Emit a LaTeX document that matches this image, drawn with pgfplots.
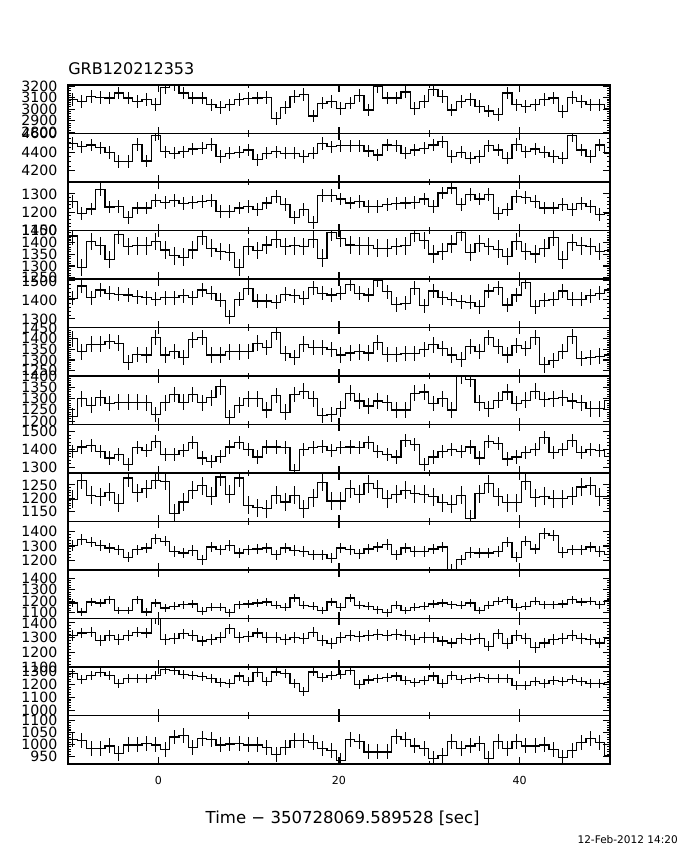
\documentclass[border=0pt]{standalone}
\usepackage{fontspec}
\setmainfont{DejaVu Sans}
\usepackage{pgfplots}
\pgfplotsset{compat=1.18}
\usepackage{pgfplotstable}

\pgfplotstableread{
t b0 b1 n0 n1 n2 n3 n4 n5 n6 n7 n8 n9 na nb
-10.512 3082 4494 1259 1427 1408 1399 1222 1390 1195 1303 1185 1315 1285 1019
-9.488 3082 4494 1259 1427 1408 1399 1222 1390 1195 1303 1185 1315 1285 1019
-8.464 3068 4458 1195 1294 1473 1338 1299 1414 1267 1344 1108 1331 1240 1017
-7.440 3112 4476 1217 1403 1411 1374 1270 1422 1210 1326 1194 1337 1272 984
-6.416 3103 4448 1323 1385 1452 1374 1304 1390 1205 1303 1185 1282 1290 984
-5.392 3097 4395 1228 1328 1434 1387 1278 1352 1222 1286 1214 1315 1272 994
-4.368 3141 4300 1232 1432 1429 1379 1284 1371 1180 1275 1120 1286 1210 962
-3.344 3097 4300 1173 1382 1426 1288 1284 1315 1276 1224 1120 1315 1247 998
-2.320 3068 4483 1223 1385 1417 1326 1284 1409 1220 1275 1214 1337 1247 998
-1.296 3082 4306 1223 1385 1411 1323 1281 1396 1235 1286 1108 1331 1247 1005
-0.272 3044 4582 1265 1403 1404 1405 1229 1446 1267 1349 1185 1431 1272 998
0.752 3185 4405 1254 1368 1411 1323 1281 1371 1264 1333 1142 1286 1315 979
1.776 3209 4388 1265 1343 1411 1341 1318 1371 1142 1263 1157 1293 1310 1031
2.800 3141 4405 1246 1337 1422 1313 1284 1396 1185 1252 1171 1326 1280 1037
3.824 3097 4434 1254 1368 1411 1394 1318 1441 1230 1270 1177 1315 1272 987
4.848 3097 4441 1259 1425 1452 1405 1281 1352 1247 1205 1114 1277 1260 1024
5.872 3038 4483 1265 1375 1434 1323 1304 1334 1207 1293 1148 1286 1247 1019
6.896 3018 4352 1204 1361 1399 1323 1353 1362 1280 1275 1148 1300 1215 998
7.920 3038 4388 1204 1357 1311 1338 1215 1414 1214 1303 1100 1360 1205 1002
8.944 3082 4398 1223 1294 1404 1338 1270 1441 1276 1252 1171 1300 1265 1005
9.968 3091 4423 1232 1382 1461 1341 1299 1399 1172 1275 1177 1309 1222 998
10.992 3097 4317 1213 1365 1394 1379 1299 1358 1164 1279 1185 1331 1290 998
12.016 3103 4388 1250 1389 1394 1359 1249 1414 1160 1286 1194 1300 1222 987
13.040 2921 4405 1287 1413 1387 1429 1314 1414 1210 1240 1165 1300 1297 959
14.064 3015 4388 1241 1382 1429 1329 1240 1409 1185 1286 1148 1286 1285 987
15.088 3112 4388 1173 1385 1422 1313 1318 1283 1210 1270 1228 1300 1205 1017
16.112 3126 4352 1213 1382 1408 1374 1333 1399 1160 1263 1165 1293 1147 1017
17.136 2941 4388 1144 1413 1464 1359 1299 1409 1201 1240 1157 1337 1297 1008
18.160 3053 4494 1290 1333 1434 1359 1225 1418 1260 1240 1120 1282 1255 984
19.184 3068 4458 1290 1442 1426 1348 1229 1396 1189 1217 1194 1260 1272 974
20.208 3009 4469 1272 1417 1434 1323 1255 1409 1189 1286 1148 1300 1280 933
21.232 3053 4469 1250 1389 1482 1333 1323 1414 1235 1275 1228 1315 1310 1019
22.256 3121 4469 1259 1385 1434 1338 1289 1409 1214 1247 1165 1309 1197 1012
23.280 2994 4412 1232 1385 1426 1333 1267 1441 1255 1279 1157 1315 1235 969
24.304 3197 4370 1232 1375 1505 1383 1289 1390 1235 1293 1128 1322 1247 969
25.328 3097 4476 1241 1375 1443 1326 1281 1371 1197 1310 1100 1315 1255 969
26.352 3097 4469 1246 1382 1376 1326 1249 1358 1214 1240 1165 1322 1265 1034
27.376 3150 4388 1250 1385 1382 1329 1249 1452 1230 1286 1120 1315 1230 1019
28.400 3009 4423 1254 1439 1461 1329 1323 1427 1217 1263 1148 1286 1215 994
29.424 3068 4441 1272 1408 1369 1348 1329 1315 1214 1263 1157 1300 1230 984
30.448 3171 4476 1230 1351 1447 1371 1278 1358 1205 1279 1177 1300 1265 941
31.472 3110 4511 1305 1361 1411 1353 1299 1390 1182 1293 1185 1277 1205 955
32.496 2994 4352 1332 1393 1404 1323 1249 1399 1176 1141 1171 1264 1272 1012
33.520 3068 4398 1241 1442 1390 1303 1400 1390 1210 1205 1165 1293 1240 984
34.544 3082 4335 1296 1357 1387 1364 1385 1414 1122 1256 1185 1286 1247 994
35.568 3024 4352 1272 1396 1364 1341 1281 1352 1217 1252 1120 1293 1255 1005
36.592 2985 4469 1296 1382 1447 1405 1255 1446 1255 1252 1165 1242 1247 941
37.616 2956 4423 1195 1371 1464 1364 1293 1433 1205 1263 1200 1326 1247 1012
38.640 3141 4335 1213 1340 1373 1323 1329 1347 1182 1326 1214 1260 1247 984
39.664 3038 4483 1287 1403 1426 1368 1278 1358 1182 1224 1148 1315 1190 1012
40.688 3024 4405 1280 1361 1492 1353 1293 1381 1264 1333 1157 1293 1190 994
41.712 3038 4434 1259 1351 1364 1405 1333 1399 1201 1279 1200 1233 1222 994
42.736 3082 4398 1223 1375 1399 1277 1296 1465 1207 1386 1171 1264 1210 998
43.760 3097 4352 1223 1422 1404 1298 1299 1381 1197 1372 1171 1286 1230 979
44.784 2979 4335 1241 1326 1447 1341 1304 1399 1197 1256 1177 1293 1222 946
45.808 3103 4575 1213 1399 1404 1409 1289 1452 1207 1275 1214 1315 1240 976
46.832 3068 4423 1246 1385 1404 1308 1281 1381 1242 1275 1194 1293 1222 1008
47.856 3038 4352 1232 1382 1422 1313 1255 1399 1247 1293 1200 1286 1210 1024
48.880 3038 4476 1186 1361 1434 1318 1255 1396 1205 1263 1171 1264 1205 1008
49.904 3009 4388 1195 1365 1452 1323 1293 1362 1207 1240 1205 1293 1215 955
50.928 3009 4388 1195 1365 1452 1323 1293 1362 1207 1240 1205 1293 1215 955
}\lc

\pgfplotsset{
  panel/.style={
    scale only axis, width=406.5pt, height=36.375pt, anchor=north west,
    xmin=-10, xmax=50, xtick={0,20,40}, minor xtick={10,30},
    xticklabels={},
    tick align=inside, tick pos=both,
    major tick length=5pt, minor tick length=2.5pt,
    every tick/.style={black, line width=0.8pt},
    axis line style={line width=1pt},
    scaled y ticks=false,
    /pgf/number format/1000 sep={},
    /pgf/number format/assume math mode=true,
    yticklabel style={font=\fontsize{10.6}{11}\selectfont, xshift=-4.5pt},
    xticklabel style={font=\fontsize{8.3}{9}\selectfont, yshift=-6pt},
  }
}

\newcommand{\panel}[7]{%
\begin{axis}[panel, at={(0pt,{-#1*36.375pt})}, ymin=#3, ymax=#4, ytick={#5}, #7]
\addplot[black, line width=0.9pt, const plot mark mid, mark=none,
  error bars/.cd, y dir=both, y fixed=#6, error mark=none,
  error bar style={line width=0.9pt}] table[x=t, y=#2] {\lc};
\node[anchor=west, inner sep=0pt, xshift=7.5pt, font=\fontsize{8.3}{9}\selectfont] at (rel axis cs:1,0.5) {#2};
\end{axis}}

\begin{document}
\begin{tikzpicture}
\path[use as bounding box] (-51pt,63.75pt) rectangle (459pt,-573.75pt);
\panel{0}{b0}{2790}{3210}{2800,2900,...,3200}{55}{minor y tick num=4}
\panel{1}{b1}{4080}{4600}{4200,4400,4600}{66}{minor y tick num=3}
\panel{2}{n0}{1100}{1365}{1100,1200,1300}{35}{minor y tick num=4}
\panel{3}{n1}{1245}{1450}{1250,1300,...,1450}{37}{minor y tick num=4}
\panel{4}{n2}{1255}{1510}{1300,1400,1500}{37}{minor y tick num=4}
\panel{5}{n3}{1225}{1452}{1250,1300,...,1450}{36}{minor y tick num=4}
\panel{6}{n4}{1185}{1400}{1200,1250,...,1400}{35}{minor y tick num=4}
\panel{7}{n5}{1268}{1540}{1300,1400,1500}{37}{minor y tick num=4}
\panel{8}{n6}{1111}{1295}{1150,1200,1250}{34}{minor y tick num=4}
\panel{9}{n7}{1136}{1467}{1200,1300,1400}{35}{minor y tick num=4}
\panel{10}{n8}{1051}{1471}{1100,1200,1300,1400}{34}{minor y tick num=4}
\panel{11}{n9}{1100}{1430}{1100,1200,1300,1400}{36}{minor y tick num=4}
\panel{12}{na}{960}{1335}{1000,1100,1200,1300}{35}{minor y tick num=4}
\panel{13}{nb}{919}{1120}{950,1000,1050,1100}{31}{minor y tick num=4, xticklabels={0,20,40}}
\node[anchor=west, inner sep=0pt, font=\fontsize{12}{12}\selectfont] at (0pt,12pt) {GRB120212353};
\node[inner sep=0pt, font=\fontsize{12.4}{13}\selectfont] at (206pt,-549.75pt) {Time − 350728069.589528 [sec]};
\node[anchor=east, inner sep=0pt, font=\fontsize{7.9}{8}\selectfont] at (457.5pt,-566.25pt) {12-Feb-2012 14:20};
\end{tikzpicture}
\end{document}
